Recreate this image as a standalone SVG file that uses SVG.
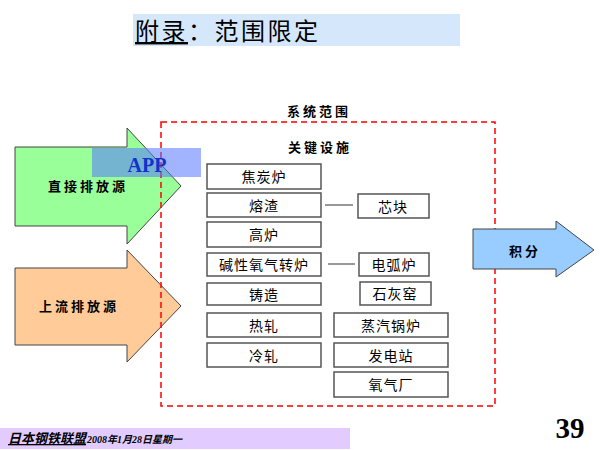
<svg xmlns="http://www.w3.org/2000/svg" width="600" height="450" viewBox="0 0 600 450">
<style>
.box{fill:#fff;stroke:#555;stroke-width:1.5}
.bt{font-family:"Noto Sans CJK SC",sans-serif;font-size:14px;text-anchor:middle;fill:#000;letter-spacing:1px}
.bl{font-family:"Noto Sans CJK SC",sans-serif;font-size:13px;font-weight:bold;text-anchor:middle;fill:#000;letter-spacing:3px}
.arr{stroke:#444;stroke-width:1}
.ln{stroke:#333;stroke-width:1}
</style>
<rect x="0" y="0" width="600" height="450" fill="#fff"/>
<g id="title">
<rect x="133" y="14" width="327" height="32" fill="#D5E8FB"/>
<text x="135" y="40" font-family="Noto Sans CJK SC,sans-serif" font-size="24" letter-spacing="2.5" fill="#000"><tspan text-decoration="underline">附录</tspan>：范围限定</text>
</g>
<g id="direct">
<polygon class="arr" points="15,147 127,147 127,128 181,186 127,244 127,226 15,226" fill="#99FF99"/>
<text class="bl" x="88" y="191">直接排放源</text>
</g>
<g id="upstream">
<polygon class="arr" points="15,268 127,268 127,250 181,306 127,362 127,345 15,345" fill="#FFCC99"/>
<text class="bl" x="79" y="311">上流排放源</text>
</g>
<g id="scope">
<rect x="161" y="122" width="334" height="284" fill="none" stroke="#FF0000" stroke-width="1.5" stroke-dasharray="6,4"/>
<text class="bl" x="319" y="116">系统范围</text>
<text class="bl" x="320" y="152">关键设施</text>
</g>
<g id="app">
<rect x="92" y="148" width="109" height="29" fill="#5577FF" fill-opacity="0.55"/>
<text x="147" y="172" font-family="Liberation Serif,serif" font-size="20" font-weight="bold" fill="#1133CC" text-anchor="middle">APP</text>
</g>
<g id="connectors">
<line class="ln" x1="325" y1="205" x2="353" y2="205"/>
<line class="ln" x1="328" y1="264" x2="355" y2="264"/>
</g>
<g id="n1"><rect class="box" x="207" y="164" width="114" height="25"/><text class="bt" x="264" y="182">焦炭炉</text></g>
<g id="n2"><rect class="box" x="207" y="193" width="114" height="24"/><text class="bt" x="264" y="211">熔渣</text></g>
<g id="n3"><rect class="box" x="207" y="222" width="114" height="25"/><text class="bt" x="264" y="240">高炉</text></g>
<g id="n4"><rect class="box" x="207" y="253" width="114" height="23"/><text class="bt" x="264" y="270">碱性氧气转炉</text></g>
<g id="n5"><rect class="box" x="207" y="283" width="114" height="22"/><text class="bt" x="264" y="300">铸造</text></g>
<g id="n6"><rect class="box" x="207" y="313" width="114" height="24"/><text class="bt" x="264" y="331">热轧</text></g>
<g id="n7"><rect class="box" x="207" y="343" width="114" height="24"/><text class="bt" x="264" y="361">冷轧</text></g>
<g id="n8"><rect class="box" x="358" y="194" width="71" height="24"/><text class="bt" x="393" y="212">芯块</text></g>
<g id="n9"><rect class="box" x="359" y="253" width="70" height="23"/><text class="bt" x="394" y="270">电弧炉</text></g>
<g id="n10"><rect class="box" x="360" y="282" width="71" height="23"/><text class="bt" x="395" y="299">石灰窑</text></g>
<g id="n11"><rect class="box" x="334" y="313" width="114" height="24"/><text class="bt" x="391" y="331">蒸汽锅炉</text></g>
<g id="n12"><rect class="box" x="334" y="343" width="114" height="24"/><text class="bt" x="391" y="361">发电站</text></g>
<g id="n13"><rect class="box" x="334" y="372" width="114" height="25"/><text class="bt" x="391" y="390">氧气厂</text></g>
<g id="integral">
<polygon class="arr" points="473,229 556,229 556,221 594,250 556,277 556,269 473,269" fill="#99CCFF"/>
<text class="bl" x="525" y="256">积分</text>
</g>
<g id="footer">
<rect x="0" y="428" width="350" height="21" fill="#E2CCFF"/>
<text x="8" y="443" font-family="Noto Sans CJK SC,sans-serif" font-style="italic" font-weight="bold" font-size="13" fill="#000"><tspan text-decoration="underline">日本钢铁联盟</tspan><tspan font-family="Liberation Serif,Noto Sans CJK SC,serif" font-size="10" dx="1">2008年1月28日星期一</tspan></text>
<text x="570" y="438" font-family="Liberation Serif,serif" font-size="29" font-weight="bold" text-anchor="middle" fill="#000">39</text>
</g>
</svg>
